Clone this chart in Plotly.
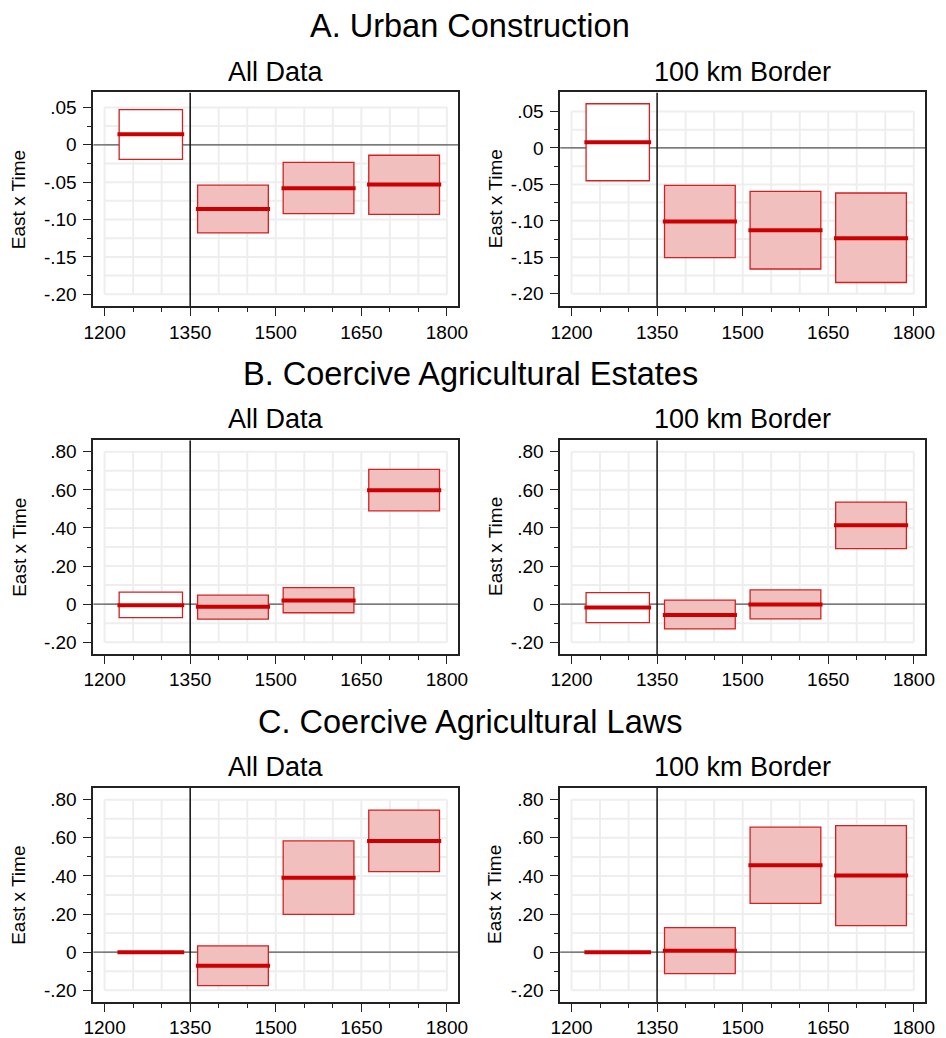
import plotly.graph_objects as go

# ---------------- data ----------------
period_mid = [1281, 1425, 1575, 1725]   # midpoints of the four periods
reference_year = 1350

urban_all_est = [0.014, -0.086, -0.058, -0.053]
urban_all_lo = [-0.0195, -0.118, -0.092, -0.093]
urban_all_hi = [0.047, -0.054, -0.0235, -0.014]

urban_bor_est = [0.0077, -0.101, -0.113, -0.124]
urban_bor_lo = [-0.045, -0.1505, -0.166, -0.1845]
urban_bor_hi = [0.0605, -0.0514, -0.0595, -0.0618]

estates_all_est = [-0.005, -0.014, 0.019, 0.598]
estates_all_lo = [-0.071, -0.078, -0.045, 0.490]
estates_all_hi = [0.063, 0.047, 0.087, 0.708]

estates_bor_est = [-0.017, -0.057, -0.002, 0.414]
estates_bor_lo = [-0.097, -0.130, -0.077, 0.292]
estates_bor_hi = [0.061, 0.021, 0.075, 0.536]

laws_all_est = [0.0, -0.071, 0.391, 0.584]
laws_all_lo = [None, -0.176, 0.198, 0.423]
laws_all_hi = [None, 0.033, 0.584, 0.746]

laws_bor_est = [0.0, 0.007, 0.456, 0.402]
laws_bor_lo = [None, -0.113, 0.256, 0.139]
laws_bor_hi = [None, 0.129, 0.656, 0.664]

x_tickvals = [1200, 1350, 1500, 1650, 1800]
x_ticktext = ["1200", "1350", "1500", "1650", "1800"]
x_minor = [1250, 1300, 1400, 1450, 1550, 1600, 1700, 1750]

yA_tickvals = [0.05, 0, -0.05, -0.10, -0.15, -0.20]
yA_ticktext = [".05", "0", "-.05", "-.10", "-.15", "-.20"]
yA_minor = [0.025, -0.025, -0.075, -0.125, -0.175]

yB_tickvals = [0.8, 0.6, 0.4, 0.2, 0, -0.2]
yB_ticktext = [".80", ".60", ".40", ".20", "0", "-.20"]
yB_minor = [0.7, 0.5, 0.3, 0.1, -0.1]

section_titles = ["A. Urban Construction", "B. Coercive Agricultural Estates",
                  "C. Coercive Agricultural Laws"]
sample_titles = ["All Data", "100 km Border"]
y_title = "East x Time"

# ---------------- styles ----------------
W, H = 946, 1038
FONT = "Liberation Sans, Arial, Helvetica, sans-serif"
box_width = [111, 124, 124, 124]
est_extra = 6
box_fill = ["#ffffff", "#f2bfbf", "#f2bfbf", "#f2bfbf"]
RED = "#cc0000"
GRID = "#eeeeee"

col_px = [(85, 458), (562, 935)]
row_px = [(93, 308), (442.7, 657.7), (792.7, 1007.7)]
x_range = [1180, 1820]
y_ranges = [[[-0.216, 0.070], [-0.217, 0.076]],
            [[-0.261, 0.861], [-0.261, 0.861]],
            [[-0.261, 0.861], [-0.261, 0.861]]]

panels = [
    [(urban_all_est, urban_all_lo, urban_all_hi), (urban_bor_est, urban_bor_lo, urban_bor_hi)],
    [(estates_all_est, estates_all_lo, estates_all_hi), (estates_bor_est, estates_bor_lo, estates_bor_hi)],
    [(laws_all_est, laws_all_lo, laws_all_hi), (laws_bor_est, laws_bor_lo, laws_bor_hi)],
]

fig = go.Figure()
layout = dict(width=W, height=H, margin=dict(l=0, r=0, t=0, b=0),
              paper_bgcolor="white", plot_bgcolor="white", showlegend=False,
              barmode="overlay", font=dict(family=FONT, color="black"))
shapes = []
annotations = []

k = 0
for r in range(3):
    yt_vals = yA_tickvals if r == 0 else yB_tickvals
    yt_text = yA_ticktext if r == 0 else yB_ticktext
    y_min = yA_minor if r == 0 else yB_minor
    y0p, y1p = row_px[r]
    for c in range(2):
        k += 1
        xa = "x" if k == 1 else f"x{k}"
        ya = "y" if k == 1 else f"y{k}"
        x0p, x1p = col_px[c]
        yr = y_ranges[r][c]
        common = dict(showgrid=False, zeroline=False, showline=True, mirror=True,
                      linecolor="#222222", linewidth=1.5, ticks="outside",
                      ticklen=8, tickwidth=1.3, tickcolor="#222222",
                      tickfont=dict(size=19, family=FONT, color="black"))
        layout["xaxis" if k == 1 else f"xaxis{k}"] = dict(
            common, domain=[x0p / W, x1p / W], anchor=ya, range=x_range,
            tickmode="array", tickvals=x_tickvals, ticktext=x_ticktext,
            minor=dict(tickmode="array", tickvals=x_minor, ticks="outside",
                       ticklen=4, tickwidth=1.3, tickcolor="#222222", showgrid=False))
        layout["yaxis" if k == 1 else f"yaxis{k}"] = dict(
            common, domain=[1 - y1p / H, 1 - y0p / H], anchor=xa, range=yr,
            tickmode="array", tickvals=yt_vals, ticktext=yt_text, ticklabelstandoff=3,
            minor=dict(tickmode="array", tickvals=y_min, ticks="outside",
                       ticklen=4, tickwidth=1.3, tickcolor="#222222", showgrid=False))

        # grid (limited to the labelled region, as in the original)
        gy = sorted(yt_vals + y_min)
        gx = sorted(x_tickvals + x_minor)
        for gxv in gx:
            shapes.append(dict(type="line", xref=xa, yref=ya, x0=gxv, x1=gxv,
                               y0=gy[0], y1=gy[-1], layer="below",
                               line=dict(color=GRID, width=2)))
        for gyv in gy:
            shapes.append(dict(type="line", xref=xa, yref=ya, x0=gx[0], x1=gx[-1],
                               y0=gyv, y1=gyv, layer="below",
                               line=dict(color=GRID, width=2)))
        shapes.append(dict(type="line", xref=xa, yref=ya, x0=x_range[0], x1=x_range[1],
                           y0=0, y1=0, layer="below", line=dict(color="#555555", width=1.3)))
        shapes.append(dict(type="line", xref=xa, yref=ya, x0=reference_year,
                           x1=reference_year, y0=yr[0], y1=yr[1], layer="below",
                           line=dict(color="#111111", width=1.5)))

        est, lo, hi = panels[r][c]
        idx = [i for i in range(4) if lo[i] is not None]
        fig.add_trace(go.Bar(
            x=[period_mid[i] for i in idx],
            base=[lo[i] for i in idx],
            y=[hi[i] - lo[i] for i in idx],
            width=[box_width[i] for i in idx],
            marker=dict(color=[box_fill[i] for i in idx],
                        line=dict(color="#d42020", width=1.3)),
            xaxis=xa, yaxis=ya, hoverinfo="skip"))
        for i in range(4):
            hw = (box_width[i] + est_extra) / 2
            fig.add_trace(go.Scatter(
                x=[period_mid[i] - hw, period_mid[i] + hw], y=[est[i], est[i]],
                mode="lines", line=dict(color=RED, width=4),
                xaxis=xa, yaxis=ya, hoverinfo="skip"))

        # subplot title
        annotations.append(dict(text=sample_titles[c], xref="paper", yref="paper",
                                x=(x0p + x1p) / 2 / W, y=1 - (y0p - 21) / H,
                                xanchor="center", yanchor="middle", showarrow=False,
                                font=dict(size=27, family=FONT, color="black")))
        # y-axis title
        annotations.append(dict(text=y_title, xref="paper", yref="paper",
                                x=(9 if c == 0 else 495.5) / W,
                                y=1 - (y0p + y1p) / 2 / H, textangle=-90,
                                xanchor="center", yanchor="middle", showarrow=False,
                                font=dict(size=19, family=FONT, color="black")))
    annotations.append(dict(text=section_titles[r], xref="paper", yref="paper",
                            x=470 / W, y=1 - (y0p - 66.5) / H,
                            xanchor="center", yanchor="middle", showarrow=False,
                            font=dict(size=32.5, family=FONT, color="black")))

layout["shapes"] = shapes
layout["annotations"] = annotations
fig.update_layout(**layout)
fig.write_html("out.html")
